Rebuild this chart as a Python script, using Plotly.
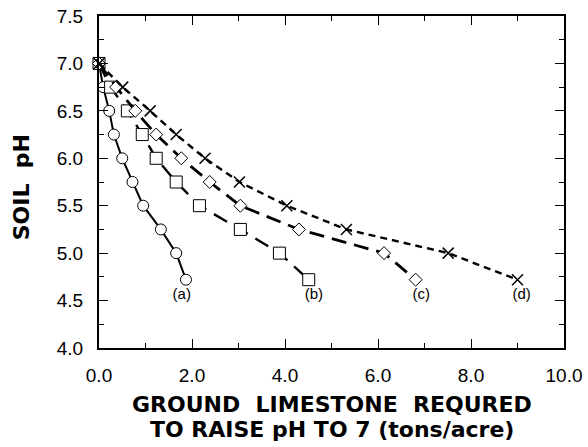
import plotly.graph_objects as go

# Data
a_x = [0.0, 0.09, 0.22, 0.32, 0.50, 0.72, 0.95, 1.33, 1.66, 1.87]
a_y = [7.0, 6.75, 6.5, 6.25, 6.0, 5.75, 5.5, 5.25, 5.0, 4.72]

b_x = [0.0, 0.25, 0.61, 0.93, 1.23, 1.66, 2.16, 3.04, 3.88, 4.51]
b_y = [7.0, 6.75, 6.5, 6.25, 6.0, 5.75, 5.5, 5.25, 5.0, 4.72]

c_x = [0.0, 0.37, 0.78, 1.23, 1.77, 2.38, 3.04, 4.30, 6.13, 6.81]
c_y = [7.0, 6.75, 6.5, 6.25, 6.0, 5.75, 5.5, 5.25, 5.0, 4.72]

d_x = [0.0, 0.51, 1.10, 1.66, 2.28, 3.02, 4.04, 5.32, 7.51, 9.00]
d_y = [7.0, 6.75, 6.5, 6.25, 6.0, 5.75, 5.5, 5.25, 5.0, 4.72]

labels = ["(a)", "(b)", "(c)", "(d)"]
label_x = [1.78, 4.62, 6.93, 9.09]
label_y = [4.56, 4.56, 4.56, 4.56]

x_ticks = [0, 2, 4, 6, 8, 10]
x_ticktext = ["0.0", "2.0", "4.0", "6.0", "8.0", "10.0"]
y_ticks = [4.0, 4.5, 5.0, 5.5, 6.0, 6.5, 7.0, 7.5]
y_ticktext = ["4.0", "4.5", "5.0", "5.5", "6.0", "6.5", "7.0", "7.5"]

x_title_lines = ["GROUND  LIMESTONE  REQURED", "TO RAISE pH TO 7 (tons/acre)"]
y_title = "SOIL  pH"

fig = go.Figure()

series = [
    (a_x, a_y, "circle", 11, "solid", 2),
    (b_x, b_y, "square", 12, "15px,9px", 2.4),
    (c_x, c_y, "diamond", 10, "15px,8px", 2.8),
    (d_x, d_y, "x-thin", 11, "7px,5px", 2.4),
]
for xs, ys, sym, size, dash, lw in series:
    if sym == "x-thin":
        marker = dict(symbol=sym, size=size, color="black",
                      line=dict(color="black", width=1.5))
    else:
        marker = dict(symbol=sym, size=size, color="white",
                      line=dict(color="black", width=1))
    fig.add_trace(go.Scatter(
        x=xs, y=ys, mode="lines+markers",
        line=dict(color="black", width=lw, dash=dash),
        marker=marker, showlegend=False, cliponaxis=False))

fig.add_trace(go.Scatter(
    x=label_x, y=label_y, mode="text", text=labels,
    textfont=dict(family="Liberation Sans, Arial, sans-serif", size=15, color="black"),
    showlegend=False))

axis_font = dict(family="Liberation Sans, Arial, sans-serif", size=19, color="black")
title_font = dict(family="DejaVu Sans, sans-serif", size=22, color="black")

fig.update_xaxes(
    range=[0, 10], tickvals=x_ticks, ticktext=x_ticktext,
    ticks="inside", ticklen=9, tickwidth=1.2, tickcolor="black",
    minor=dict(dtick=1, tick0=0, ticks="inside", ticklen=5, tickcolor="black", tickwidth=1),
    showline=True, linecolor="black", linewidth=2, mirror="ticks",
    showgrid=False, zeroline=False, tickfont=axis_font,
    ticklabelstandoff=9, automargin=False,
)
fig.update_yaxes(
    range=[4.0, 7.5], tickvals=y_ticks, ticktext=y_ticktext,
    ticks="inside", ticklen=9, tickwidth=1.2, tickcolor="black",
    minor=dict(dtick=0.25, tick0=4.0, ticks="inside", ticklen=5, tickcolor="black", tickwidth=1),
    showline=True, linecolor="black", linewidth=2, mirror="ticks",
    showgrid=False, zeroline=False, tickfont=axis_font,
    ticklabelstandoff=10, automargin=False,
)

# Axis titles as annotations (paper coordinates relative to plot area)
fig.add_annotation(text="<b>" + x_title_lines[0] + "</b>", xref="paper", yref="paper",
                   x=0.5, y=-0.170, xanchor="center", yanchor="middle",
                   showarrow=False, font=title_font)
fig.add_annotation(text="<b>" + x_title_lines[1] + "</b>", xref="paper", yref="paper",
                   x=0.5, y=-0.245, xanchor="center", yanchor="middle",
                   showarrow=False, font=title_font)
fig.add_annotation(text="<b>" + y_title + "</b>", xref="paper", yref="paper",
                   x=-0.165, y=0.485, xanchor="center", yanchor="middle", textangle=-90,
                   showarrow=False, font=title_font)

fig.update_layout(
    width=588, height=447,
    margin=dict(l=99, r=24, t=16, b=99, autoexpand=False),
    paper_bgcolor="white", plot_bgcolor="white",
)

fig.write_html("out.html", config={"displayModeBar": False},
               post_script="document.body.style.margin='0';document.body.style.overflow='hidden';")
